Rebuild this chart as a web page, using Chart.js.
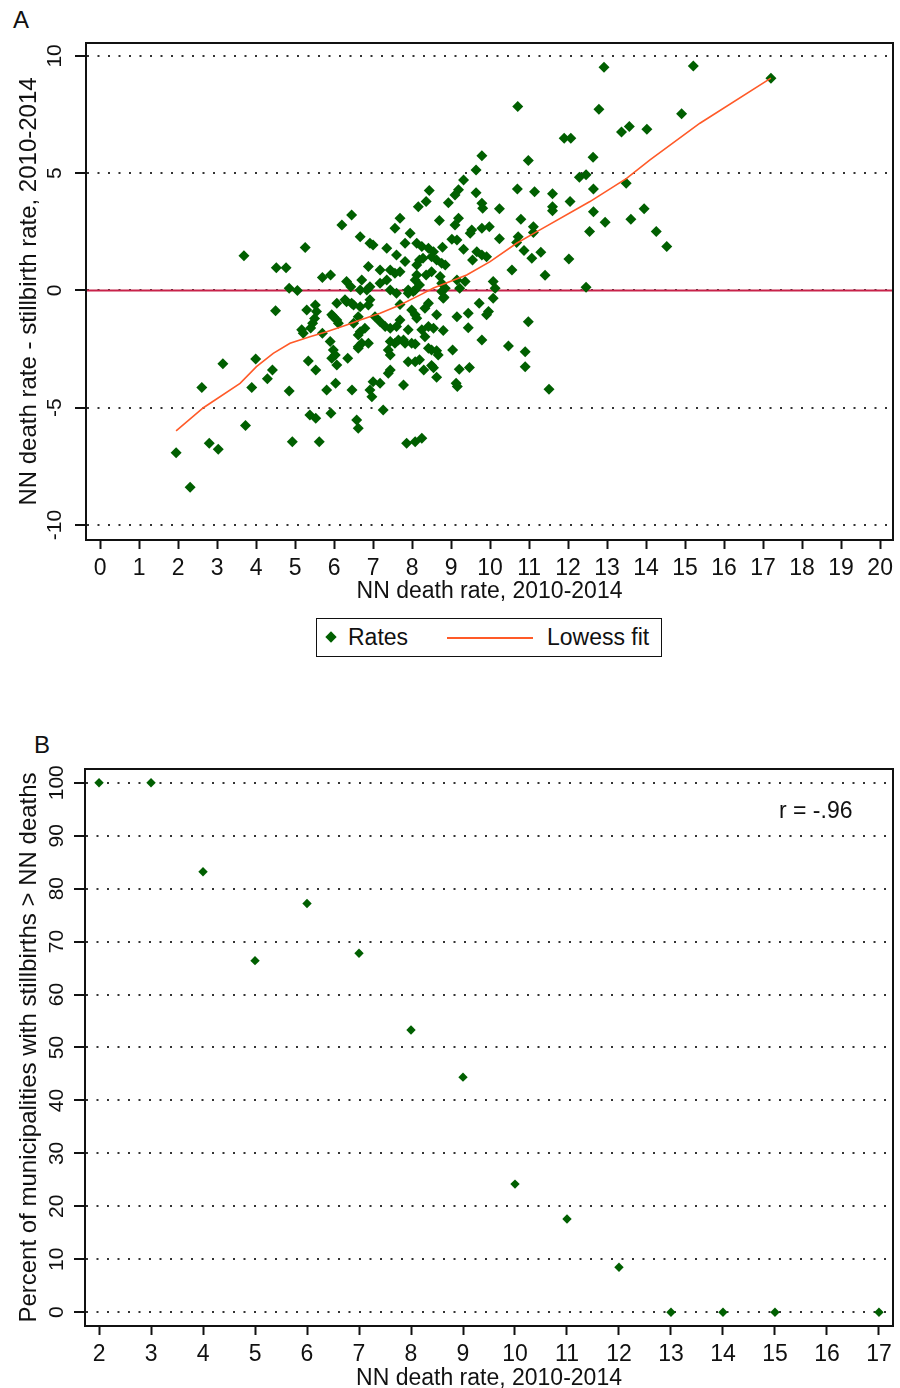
<!DOCTYPE html>
<html>
<head>
<meta charset="utf-8">
<script src="https://cdn.jsdelivr.net/npm/chart.js@4.4.1/dist/chart.umd.min.js"></script>
<style>
    body { margin: 0; background: #fff; width: 900px; height: 1388px; overflow: hidden; position: relative; }
    canvas { position: absolute; left: 0; }
    #chart-a { top: 0; }
    #chart-b { top: 730px; }
    .panel-tag { position: absolute; font: 24px "Liberation Sans", Arial, sans-serif; color: #111; }
    #legend-a {
        position: absolute; left: 316px; top: 618px; width: 346px; height: 39px;
        box-sizing: border-box; border: 1.5px solid #111;
        font: 23px "Liberation Sans", Arial, sans-serif; color: #111;
    }
    #legend-a span { position: absolute; top: 5px; }
    #r-note { position: absolute; left: 779px; top: 797px; font: 23px "Liberation Sans", Arial, sans-serif; color: #111; }
</style>
</head>
<body>
<div class="panel-tag" style="left:13px;top:6px;">A</div>
<div class="panel-tag" style="left:34px;top:731px;">B</div>
<canvas id="chart-a" width="900" height="610"></canvas>
<div id="legend-a"></div>
<canvas id="chart-b" width="900" height="658"></canvas>
<div id="r-note">r = -.96</div>
<script>
// Panel A: one point per municipality (NN death rate, NN rate - stillbirth rate)
const municipalityRates = [
    [3.69,1.48],[5.26,1.83],[4.52,0.97],[4.77,0.97],[4.85,0.09],[5.06,0.0],[5.70,0.55],[5.91,0.66],[6.32,0.38],[6.43,0.16],
    [4.50,-0.87],[5.30,-0.83],[5.52,-0.62],[5.55,-0.90],[5.45,-1.40],[5.50,-1.20],[5.40,-1.60],[5.17,-1.68],[5.21,-1.83],[5.70,-1.83],
    [6.07,-0.55],[5.94,-1.04],[6.07,-1.26],[6.32,-0.48],[6.50,-0.62],[6.50,-1.40],[6.62,-1.12],[5.90,-2.18],[5.98,-2.54],[5.94,-2.89],
    [6.07,-3.18],[6.03,-2.75],[6.35,-2.89],[6.62,-2.46],[5.34,-3.01],[5.53,-3.39],[6.04,-3.96],[5.81,-4.24],[6.46,-4.24],[4.85,-4.29],
    [3.99,-2.92],[4.42,-3.39],[4.29,-3.77],[3.15,-3.13],[3.89,-4.14],[2.61,-4.14],[3.73,-5.76],[5.38,-5.31],[5.53,-5.45],[5.92,-5.24],
    [6.58,-5.52],[6.62,-5.88],[4.93,-6.45],[5.62,-6.45],[2.80,-6.52],[3.03,-6.77],[1.95,-6.92],[2.31,-8.39],
    [6.45,3.22],[6.20,2.79],[7.56,2.65],[7.69,3.08],[7.95,2.44],[6.67,2.29],[6.92,2.01],[7.00,1.94],[7.35,1.80],[7.82,2.01],
    [8.12,2.01],[7.60,1.51],[7.82,1.23],[6.88,1.02],[6.71,0.45],[7.18,0.87],[7.44,0.87],[7.56,0.73],[7.69,0.80],[6.67,0.02],
    [6.84,0.02],[6.92,0.16],[7.18,0.31],[7.35,0.45],[7.44,0.02],[7.60,-0.12],[7.90,0.02],[8.08,0.02],[6.28,-0.40],[6.45,-0.55],
    [6.67,-0.69],[6.88,-0.62],[6.92,-0.40],[5.98,-1.12],[6.11,-1.40],[7.05,-1.12],[7.18,-1.33],[7.31,-1.54],[6.67,-1.76],[6.79,-1.61],
    [6.62,-1.90],[7.44,-1.61],[7.60,-1.54],[7.69,-1.26],[7.90,-1.68],[6.71,-2.25],[6.88,-2.25],[6.62,-2.40],[7.44,-2.18],[7.56,-2.25],
    [7.65,-2.11],[7.82,-2.25],[7.99,-2.25],[7.39,-2.54],[7.44,-2.75],[7.90,-3.04],[8.08,-3.04],[7.39,-3.53],[7.44,-3.39],[7.00,-3.89],
    [7.18,-3.96],[6.92,-4.24],[6.97,-4.53],[7.78,-4.03],[7.26,-5.10],[7.86,-6.52],[8.08,-6.45],[7.69,-0.60],
    [9.79,5.74],[10.98,5.54],[9.64,5.14],[9.32,4.71],[8.44,4.26],[9.19,4.29],[9.10,4.07],[8.36,3.79],[8.16,3.57],[8.93,3.74],
    [9.64,4.17],[9.79,3.72],[9.81,3.50],[10.24,3.48],[10.70,4.32],[11.14,4.21],[8.70,2.98],[9.19,3.08],[9.10,2.79],[9.53,2.58],
    [9.49,2.44],[9.79,2.65],[9.98,2.72],[10.79,3.04],[11.11,2.72],[8.25,1.87],[8.42,1.80],[8.55,1.65],[8.50,1.44],[8.78,1.84],
    [9.02,2.18],[9.15,2.15],[9.32,1.76],[10.24,2.20],[10.72,2.29],[10.87,1.70],[11.07,1.37],[10.56,0.87],[9.66,1.65],[9.79,1.51],
    [9.91,1.44],[9.55,1.30],[8.12,1.09],[8.19,1.30],[8.28,1.37],[8.63,1.30],[8.76,1.16],[8.85,1.09],[8.12,0.66],[8.08,0.45],
    [8.19,0.23],[8.50,0.80],[8.36,0.66],[8.72,0.59],[8.76,0.31],[8.85,0.09],[8.76,-0.05],[8.80,-0.33],[9.15,0.45],[9.36,0.38],
    [9.22,0.09],[8.03,-0.05],[7.90,-0.12],[10.08,0.38],[10.13,0.09],[10.08,-0.33],[8.42,-0.55],[8.33,-0.76],[7.99,-0.83],[8.08,-1.04],
    [8.12,-1.19],[8.63,-1.04],[9.15,-1.12],[9.44,-0.97],[9.72,-0.55],[9.96,-0.90],[9.91,-1.04],[8.25,-1.68],[8.33,-1.97],[8.42,-1.54],
    [8.55,-1.61],[8.80,-1.71],[9.44,-1.59],[10.98,-1.33],[7.78,-2.11],[8.08,-2.28],[8.42,-2.46],[8.50,-2.54],[8.63,-2.57],[8.67,-2.75],
    [9.04,-2.54],[9.79,-2.11],[10.47,-2.37],[10.90,-2.61],[10.90,-3.25],[8.19,-2.96],[8.50,-3.20],[8.55,-3.30],[8.30,-3.39],[9.21,-3.36],
    [9.47,-3.28],[8.63,-3.70],[9.13,-3.96],[9.16,-4.10],[8.25,-6.30],[8.82,-0.29],[11.51,-4.21],
    [12.92,9.52],[15.21,9.57],[17.20,9.05],[10.71,7.84],[12.79,7.73],[14.91,7.53],[13.37,6.76],[13.57,6.99],[14.02,6.87],[11.90,6.49],
    [12.07,6.49],[12.64,5.68],[12.29,4.83],[12.46,4.93],[13.49,4.57],[11.60,4.12],[12.65,4.32],[12.05,3.79],[11.60,3.57],[11.60,3.40],
    [13.95,3.48],[12.65,3.35],[12.95,2.91],[13.61,3.04],[11.11,2.47],[12.55,2.51],[14.26,2.51],[14.53,1.87],[10.68,2.04],[11.30,1.63],
    [12.02,1.34],[11.41,0.65],[12.46,0.14]
];

// Lowess fit
const lowessX = [1.95, 2.65, 3.59, 4.01, 4.44, 4.87, 5.38, 5.81, 6.32, 6.67, 7.18, 7.69, 8.21, 8.55, 9.40, 10.00, 10.68, 11.20, 12.56, 13.50, 14.10, 15.38, 17.20];
const lowessY = [-5.99, -5.00, -3.96, -3.25, -2.68, -2.25, -1.97, -1.76, -1.47, -1.26, -0.97, -0.62, -0.19, 0.10, 0.66, 1.23, 2.01, 2.51, 3.79, 4.78, 5.57, 7.13, 9.05];

const xTicksA = [0, 1, 2, 3, 4, 5, 6, 7, 8, 9, 10, 11, 12, 13, 14, 15, 16, 17, 18, 19, 20];
const yTicksA = [-10, -5, 0, 5, 10];

// Panel B: percent of municipalities with stillbirths > NN deaths, by NN death rate
const rateBins = [2, 3, 4, 5, 6, 7, 8, 9, 10, 11, 12, 13, 14, 15, 17];
const pctStillbirthsHigher = [100, 100, 83.2, 66.4, 77.2, 67.8, 53.3, 44.4, 24.2, 17.6, 8.5, 0, 0, 0, 0];

const xTicksB = [2, 3, 4, 5, 6, 7, 8, 9, 10, 11, 12, 13, 14, 15, 16, 17];
const yTicksB = [0, 10, 20, 30, 40, 50, 60, 70, 80, 90, 100];

const MARKER = '#005f00';
const LOWESS = '#ff5a28';
const ZERO_LINE = '#c8234a';
const SANS = '"Liberation Sans", Arial, sans-serif';

// frame around the plot, rotated y labels (Stata style), optional y=0 reference line
const stataPlot = {
    id: 'stataPlot',
    beforeDatasetsDraw(chart, args, opts) {
        if (!opts.zeroLine) return;
        const {ctx, chartArea: a, scales: {y}} = chart;
        const py = y.getPixelForValue(0);
        ctx.save();
        ctx.setLineDash([]);
        ctx.strokeStyle = ZERO_LINE;
        ctx.lineWidth = 2;
        ctx.beginPath();
        ctx.moveTo(a.left, py);
        ctx.lineTo(a.right, py);
        ctx.stroke();
        ctx.restore();
    },
    afterDraw(chart, args, opts) {
        const {ctx, chartArea: a, scales: {y}} = chart;
        ctx.save();
        ctx.setLineDash([]);
        ctx.strokeStyle = '#111';
        ctx.lineWidth = 2;
        ctx.strokeRect(a.left, a.top, a.right - a.left, a.bottom - a.top);
        ctx.font = '21px ' + SANS;
        ctx.fillStyle = '#111';
        ctx.textAlign = 'center';
        ctx.textBaseline = 'middle';
        y.ticks.forEach(t => {
            ctx.save();
            ctx.translate(a.left - opts.labelOffset, y.getPixelForValue(t.value));
            ctx.rotate(-Math.PI / 2);
            ctx.fillText(String(t.value), 0, 0);
            ctx.restore();
        });
        ctx.restore();
    }
};

function axisX(ticks, min, max, height, titleText, titlePad) {
    return {
        type: 'linear', min: min, max: max,
        afterBuildTicks: s => { s.ticks = ticks.map(v => ({value: v})); },
        afterFit: s => { s.height = height; },
        grid: { drawOnChartArea: false, drawTicks: true, tickLength: 9, tickColor: '#111', tickWidth: 2 },
        border: { display: true, color: '#111', width: 2 },
        ticks: { autoSkip: false, maxRotation: 0, padding: 6, color: '#111', font: { family: SANS, size: 23 } },
        title: { display: true, text: titleText, color: '#111', padding: { top: 0, bottom: titlePad }, font: { family: SANS, size: 23 } }
    };
}

function axisY(ticks, min, max, width, titleText) {
    return {
        type: 'linear', min: min, max: max,
        afterBuildTicks: s => { s.ticks = ticks.map(v => ({value: v})); },
        afterFit: s => { s.width = width; },
        grid: {
            color: '#333', lineWidth: 2,
            drawTicks: true, tickLength: 11, tickColor: '#111', tickWidth: 2, tickBorderDash: []
        },
        // in v4 border.dash is what dots the grid lines
        border: { display: true, color: '#111', width: 2, dash: [2, 8.5] },
        ticks: { display: false },
        title: { display: true, text: titleText, color: '#111', padding: { top: 15, bottom: 0 }, font: { family: SANS, size: 24 } }
    };
}

const Panels = {
    init: function() {
        this.drawRates();
        this.drawLegend();
        this.drawPercent();
    },

    drawRates: function() {
        const ctx = document.getElementById('chart-a').getContext('2d');
        this.rates = new Chart(ctx, {
            type: 'scatter',
            data: {
                datasets: [{
                    label: 'Rates',
                    order: 1,
                    data: municipalityRates.map(p => ({x: p[0], y: p[1]})),
                    pointStyle: 'rectRot',
                    pointRadius: 5.5,
                    pointBorderWidth: 0,
                    backgroundColor: MARKER,
                    borderColor: MARKER
                }, {
                    type: 'line',
                    label: 'Lowess fit',
                    order: 0,
                    data: lowessX.map((x, i) => ({x: x, y: lowessY[i]})),
                    borderColor: LOWESS,
                    borderWidth: 1.6,
                    pointRadius: 0,
                    tension: 0,
                    fill: false
                }]
            },
            options: {
                responsive: false,
                animation: false,
                events: [],
                layout: { padding: { top: 43, right: 7, left: 0, bottom: 0 } },
                plugins: { legend: { display: false }, tooltip: { enabled: false }, stataPlot: { labelOffset: 31, zeroLine: true } },
                scales: {
                    x: axisX(xTicksA, -0.36, 20.33, 70, 'NN death rate, 2010-2014', 5),
                    y: axisY(yTicksA, -10.64, 10.55, 86, 'NN death rate - stillbirth rate, 2010-2014')
                }
            },
            plugins: [stataPlot]
        });
    },

    drawLegend: function() {
        const box = document.getElementById('legend-a');
        const sets = this.rates.data.datasets;
        box.innerHTML =
            '<span style="left:10px;top:14px;width:8px;height:8px;background:' + sets[0].backgroundColor +
            ';transform:rotate(45deg);"></span>' +
            '<span style="left:31px;">' + sets[0].label + '</span>' +
            '<span style="left:130px;top:18px;width:86px;height:2px;background:' + sets[1].borderColor + ';"></span>' +
            '<span style="left:230px;">' + sets[1].label + '</span>';
    },

    drawPercent: function() {
        const ctx = document.getElementById('chart-b').getContext('2d');
        this.percent = new Chart(ctx, {
            type: 'scatter',
            data: {
                datasets: [{
                    label: 'Percent',
                    data: rateBins.map((x, i) => ({x: x, y: pctStillbirthsHigher[i]})),
                    pointStyle: 'rectRot',
                    pointRadius: 4.7,
                    pointBorderWidth: 0,
                    backgroundColor: MARKER,
                    borderColor: MARKER
                }]
            },
            options: {
                responsive: false,
                animation: false,
                events: [],
                layout: { padding: { top: 39, right: 7, left: 0, bottom: 0 } },
                plugins: { legend: { display: false }, tooltip: { enabled: false }, stataPlot: { labelOffset: 28, zeroLine: false } },
                scales: {
                    x: axisX(xTicksB, 1.73, 17.27, 62, 'NN death rate, 2010-2014', -4),
                    y: axisY(yTicksB, -2.6, 102.6, 85, 'Percent of municipalities with stillbirths > NN deaths')
                }
            },
            plugins: [stataPlot]
        });
    }
};

Panels.init();
</script>
</body>
</html>
